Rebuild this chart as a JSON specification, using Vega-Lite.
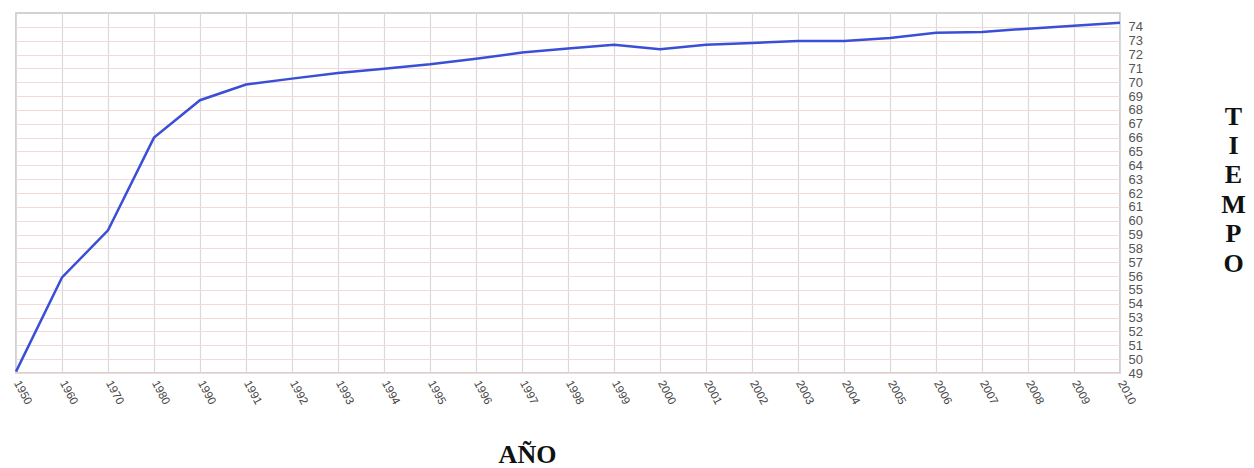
{
  "$schema": "https://vega.github.io/schema/vega-lite/v6.json",
  "autosize": {"type": "none"},
  "padding": {"left": 16, "top": 13, "right": 134, "bottom": 95},
  "width": 1104,
  "height": 360,
  "background": "white",
  "config": {
    "view": {"stroke": "#c4c4c4", "strokeWidth": 1.5},
    "font": "Liberation Sans"
  },
  "data": {
    "values": [
      {"anio": "1950", "tiempo": 49.1},
      {"anio": "1960", "tiempo": 55.9},
      {"anio": "1970", "tiempo": 59.3},
      {"anio": "1980", "tiempo": 66.0},
      {"anio": "1990", "tiempo": 68.7},
      {"anio": "1991", "tiempo": 69.83},
      {"anio": "1992", "tiempo": 70.26},
      {"anio": "1993", "tiempo": 70.67},
      {"anio": "1994", "tiempo": 70.98},
      {"anio": "1995", "tiempo": 71.3},
      {"anio": "1996", "tiempo": 71.7},
      {"anio": "1997", "tiempo": 72.14},
      {"anio": "1998", "tiempo": 72.43},
      {"anio": "1999", "tiempo": 72.71},
      {"anio": "2000", "tiempo": 72.38},
      {"anio": "2001", "tiempo": 72.71},
      {"anio": "2002", "tiempo": 72.83},
      {"anio": "2003", "tiempo": 72.98},
      {"anio": "2004", "tiempo": 72.98},
      {"anio": "2005", "tiempo": 73.2},
      {"anio": "2006", "tiempo": 73.58},
      {"anio": "2007", "tiempo": 73.63},
      {"anio": "2008", "tiempo": 73.87},
      {"anio": "2009", "tiempo": 74.08},
      {"anio": "2010", "tiempo": 74.3}
    ]
  },
  "mark": {"type": "line", "color": "#3b4fd6", "strokeWidth": 2.5},
  "encoding": {
    "x": {
      "field": "anio",
      "type": "ordinal",
      "sort": null,
      "scale": {"type": "point", "padding": 0},
      "axis": {
        "title": "AÑO",
        "titleFont": "Liberation Serif",
        "titleFontSize": 26,
        "titleFontWeight": "bold",
        "titleColor": "#111",
        "titleX": 511,
        "titleY": 89,
        "titleAlign": "center",
        "titleBaseline": "alphabetic",
        "grid": true,
        "gridColor": "#d9d9d9",
        "gridWidth": 1.2,
        "domain": false,
        "ticks": false,
        "labelAngle": 62,
        "labelAlign": "left",
        "labelBaseline": "middle",
        "labelPadding": 8,
        "labelFontSize": 11.5,
        "labelColor": "#444"
      }
    },
    "y": {
      "field": "tiempo",
      "type": "quantitative",
      "scale": {"domain": [49, 75], "nice": false, "zero": false},
      "axis": {
        "orient": "right",
        "values": [49, 50, 51, 52, 53, 54, 55, 56, 57, 58, 59, 60, 61, 62, 63, 64, 65, 66, 67, 68, 69, 70, 71, 72, 73, 74],
        "title": ["T", "I", "E", "M", "P", "O"],
        "titleFont": "Liberation Serif",
        "titleFontSize": 26,
        "titleFontWeight": "bold",
        "titleColor": "#111",
        "titleAngle": 0,
        "titleAlign": "center",
        "titleBaseline": "alphabetic",
        "titleLineHeight": 29.4,
        "titleX": 113,
        "titleY": 111,
        "grid": true,
        "gridColor": "#f3d9d9",
        "domain": false,
        "ticks": false,
        "labelPadding": 8,
        "labelFontSize": 13,
        "labelColor": "#555",
        "labelBaseline": "middle"
      }
    }
  }
}
